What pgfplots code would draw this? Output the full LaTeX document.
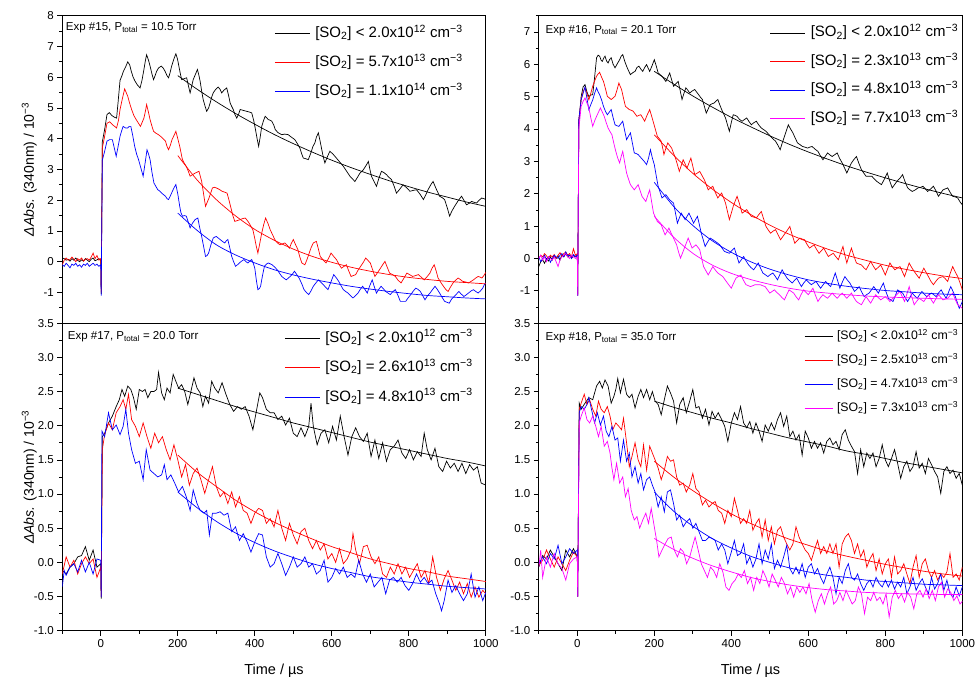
\documentclass[border=0pt]{standalone}
\usepackage{fontspec}
\setmainfont{Liberation Sans}
\usepackage{pgfplots}
\pgfplotsset{compat=1.18}
\usepgfplotslibrary{groupplots}

\definecolor{cblack}{RGB}{0,0,0}
\definecolor{cred}{RGB}{255,0,0}
\definecolor{cblue}{RGB}{0,0,255}
\definecolor{cmag}{RGB}{255,0,255}

\newcommand{\so}[3]{[SO\textsubscript{2}] #1 #2x10\textsuperscript{#3} cm\textsuperscript{−3}}

\pgfplotsset{
  panel/.style={
    scale only axis, width=423.5pt, height=307.5pt,
    xmin=-100, xmax=1000,
    tick align=outside, xtick pos=bottom, ytick pos=left,
    major tick length=5pt, minor tick length=3pt,
    every tick/.style={line width=0.7pt},
    axis line style={line width=1pt},
    /pgf/number format/assume math mode=true,
    /pgf/number format/1000 sep={},
    ticklabel style={font=\fontsize{11.5}{13}\selectfont},
    every axis plot/.append style={line width=0.7pt},
    legend cell align=left,
  },
  bigleg/.style={
    legend image code/.code={\draw[##1] (0pt,0pt) -- (35pt,0pt);},
    legend style={draw=none, fill=none, inner sep=0pt, column sep=5pt,
      font=\fontsize{15}{17}\selectfont, row sep=#1,
      nodes={inner sep=0pt, text height=12pt, text depth=4pt}},
  },
  smallleg/.style={
    legend image code/.code={\draw[##1] (0pt,0pt) -- (28pt,0pt);},
    legend style={draw=none, fill=none, inner sep=0pt, column sep=4pt,
      font=\fontsize{12.3}{14}\selectfont, row sep=10.5pt,
      nodes={inner sep=0pt, text height=10pt, text depth=3.5pt}},
  },
  toprow/.style={xtick=\empty, minor xtick={}},
  botrow/.style={
    xtick={0,200,...,1000}, minor xtick={-100,100,...,900},
    xlabel={Time / µs},
    xlabel style={font=\fontsize{14.5}{16}\selectfont, at={(axis description cs:0.5,-0.141)}, anchor=base},
    ymin=-1, ymax=3.5, ytick={-1,-0.5,...,3.5}, minor ytick={-0.75,-0.25,...,3.25},
    yticklabel style={/pgf/number format/.cd, fixed, fixed zerofill, precision=1},
  },
  ylab/.style={
    ylabel={{\itshape ΔAbs.} (340nm) / 10\textsuperscript{−3}},
    ylabel style={font=\fontsize{14}{16}\selectfont, at={(axis description cs:-0.078,0.5)}, anchor=center},
  },
  fit/.style={smooth, forget plot},
}

\begin{document}
\begin{tikzpicture}
\begin{groupplot}[group style={group size=2 by 2, horizontal sep=53pt, vertical sep=0pt, group name=G}, panel]

% ---------------- Exp 15 ----------------
\nextgroupplot[toprow, ylab, bigleg=13pt, ymin=-2, ymax=8, ytick={-1,0,...,8}, minor ytick={-1.5,-0.5,...,7.5},
  legend style={at={(1,1)}, anchor=north east, xshift=-23pt, yshift=-9.5pt}]
\addplot[cblack] coordinates {(-100,0.12)(-95,0.10)(-90,0.05)(-85,0.08)(-80,0.02)(-75,0.10)(-70,0.05)(-65,0.12)(-60,0.04)(-55,0.0)(-50,0.06)(-45,0.02)(-40,0.1)(-35,0.05)(-30,0.0)(-25,0.08)(-20,0.12)(-15,0.03)(-10,0.06)(-5,0.1)(0,0.05)(1,-1.05)(4,3.9)(10,4.3)(16,4.78)(22,4.85)(29,4.75)(35,4.7)(41,4.67)(45,5.2)(50,5.9)(55,6.05)(59,6.2)(65,6.35)(70,6.5)(75,6.4)(79,6.2)(84,6.0)(89,5.87)(95,5.75)(102,5.65)(107,5.9)(112,6.25)(116,6.55)(119,6.73)(124,6.55)(128,6.36)(133,6.1)(137,5.92)(141,6.05)(145,6.19)(150,6.3)(157,6.36)(162,6.3)(167,6.19)(172,6.05)(176,5.98)(180,6.15)(184,6.36)(190,6.6)(195,6.76)(199,6.6)(202,6.41)(206,6.15)(210,5.92)(216,5.95)(223,5.98)(228,5.7)(232,5.49)(236,5.7)(240,5.92)(246,6.1)(251,6.25)(255,6.05)(258,5.87)(262,5.55)(266,5.27)(271,5.05)(275,4.89)(280,5.0)(284,5.16)(288,5.35)(292,5.49)(298,5.6)(305,5.68)(310,5.6)(314,5.49)(320,5.58)(327,5.65)(332,5.4)(336,5.16)(340,5.05)(344,4.95)(348,4.8)(353,4.67)(358,4.8)(362,4.95)(370,4.92)(379,4.89)(385,4.87)(392,4.84)(397,4.6)(401,4.35)(406,4.0)(410,3.75)(414,4.05)(418,4.4)(423,4.6)(427,4.73)(431,4.68)(435,4.62)(440,4.6)(444,4.57)(449,4.45)(453,4.3)(460,4.2)(470,4.13)(478,4.15)(487,4.13)(495,4.05)(504,3.97)(510,3.85)(517,3.70)(522,3.5)(526,3.37)(532,3.35)(539,3.32)(546,3.55)(551,3.75)(556,3.86)(560,4.05)(565,4.19)(570,3.9)(574,3.64)(578,3.4)(582,3.21)(588,3.4)(595,3.59)(603,3.5)(612,3.37)(620,3.25)(630,3.10)(638,2.95)(647,2.78)(653,2.7)(660,2.61)(667,2.75)(673,2.88)(682,2.99)(690,3.15)(695,3.26)(699,3.0)(703,2.78)(710,2.6)(716,2.45)(722,2.7)(729,2.94)(735,2.9)(742,2.83)(748,2.75)(755,2.67)(762,2.45)(768,2.23)(776,2.35)(785,2.5)(795,2.4)(803,2.29)(812,2.32)(820,2.34)(829,2.2)(838,2.02)(845,2.2)(850,2.34)(857,2.5)(863,2.61)(870,2.4)(880,2.13)(887,2.08)(893,2.02)(900,1.75)(906,1.48)(912,1.65)(919,1.80)(928,1.98)(937,2.13)(943,2.0)(950,1.85)(957,1.9)(963,1.96)(970,1.93)(976,1.91)(983,2.0)(989,2.07)(995,2.05)(1000,2.02)};
\addlegendentry{\so{<}{2.0}{12}}
\addplot[cred] coordinates {(-100,-0.1)(-95,0.05)(-90,0.12)(-85,0.05)(-80,0.07)(-75,0.15)(-70,0.08)(-65,0.0)(-60,0.1)(-55,0.05)(-50,0.12)(-45,0.02)(-40,0.08)(-35,0.1)(-30,0.05)(-25,0.15)(-20,0.28)(-15,0.1)(-10,0.2)(-5,0.05)(0,0.1)(1,-1.0)(4,3.7)(10,4.08)(16,4.5)(23,4.55)(30,4.46)(36,4.4)(41,4.35)(46,4.6)(50,4.95)(56,5.3)(62,5.62)(66,5.5)(70,5.38)(75,5.15)(80,4.95)(86,4.75)(92,4.62)(98,4.5)(103,4.40)(108,4.55)(112,4.67)(116,4.9)(119,5.11)(124,4.85)(128,4.62)(133,4.4)(137,4.24)(143,4.18)(150,4.13)(155,4.08)(160,4.02)(168,3.92)(172,3.75)(176,3.64)(181,3.8)(185,3.97)(190,4.1)(195,4.24)(200,4.0)(205,3.75)(212,3.32)(217,3.2)(222,3.10)(227,2.95)(232,2.78)(238,2.83)(245,2.88)(250,2.91)(255,2.94)(258,2.8)(262,2.61)(267,2.2)(272,1.80)(277,1.95)(281,2.07)(286,2.25)(290,2.40)(295,2.42)(300,2.40)(308,2.35)(315,2.29)(322,2.26)(328,2.23)(333,2.0)(338,1.75)(343,1.5)(348,1.31)(355,1.34)(362,1.37)(368,1.40)(375,1.42)(380,1.35)(385,1.26)(390,1.15)(395,1.04)(400,0.75)(403,0.55)(408,0.28)(413,0.6)(418,0.93)(423,1.2)(428,1.42)(434,1.25)(440,1.04)(446,0.88)(452,0.72)(458,0.62)(465,0.55)(472,0.58)(478,0.61)(485,0.52)(490,0.44)(495,0.6)(500,0.72)(506,0.55)(512,0.39)(517,0.15)(522,-0.04)(530,-0.10)(535,0.05)(540,0.23)(546,0.45)(552,0.61)(560,0.66)(565,0.42)(570,0.17)(578,0.05)(585,-0.04)(592,0.12)(598,0.28)(605,0.17)(612,0.07)(618,-0.07)(625,-0.21)(632,-0.15)(638,-0.10)(644,-0.3)(650,-0.48)(656,-0.45)(662,-0.42)(668,-0.28)(675,-0.15)(682,-0.02)(688,0.12)(694,0.04)(700,-0.04)(706,-0.26)(712,-0.48)(718,-0.37)(724,-0.26)(731,-0.12)(738,0.01)(744,-0.18)(750,-0.37)(758,-0.42)(765,-0.48)(772,-0.6)(780,-0.69)(788,-0.52)(795,-0.37)(802,-0.42)(810,-0.48)(818,-0.45)(825,-0.42)(832,-0.5)(840,-0.59)(848,-0.48)(855,-0.37)(860,-0.22)(866,-0.10)(871,-0.3)(876,-0.53)(883,-0.67)(890,-0.80)(896,-0.9)(902,-0.97)(908,-0.83)(915,-0.69)(922,-0.6)(928,-0.53)(934,-0.58)(940,-0.64)(948,-0.66)(955,-0.69)(962,-0.64)(968,-0.59)(974,-0.53)(980,-0.48)(985,-0.5)(990,-0.53)(995,-0.45)(1000,-0.35)};
\addlegendentry{\so{=}{5.7}{13}}
\addplot[cblue] coordinates {(-100,-0.1)(-95,-0.15)(-90,-0.05)(-85,-0.12)(-80,-0.2)(-75,-0.08)(-70,-0.12)(-65,-0.05)(-60,-0.15)(-55,-0.1)(-50,-0.18)(-45,-0.08)(-40,-0.12)(-35,-0.05)(-30,-0.15)(-25,-0.1)(-20,-0.05)(-15,-0.12)(-10,-0.08)(-5,-0.15)(0,-0.1)(1,-1.1)(4,3.3)(10,3.59)(16,3.92)(23,3.97)(30,3.97)(35,3.7)(40,3.43)(45,3.75)(50,4.08)(54,4.25)(58,4.40)(64,4.35)(70,4.35)(74,4.4)(78,4.40)(83,4.1)(88,3.75)(93,3.5)(98,3.32)(104,3.05)(110,2.78)(115,3.2)(120,3.64)(124,3.5)(128,3.32)(133,2.9)(138,2.56)(143,2.45)(148,2.34)(153,2.3)(158,2.23)(163,2.18)(168,2.13)(172,2.05)(176,2.02)(181,2.15)(186,2.29)(190,2.4)(195,2.51)(200,2.2)(205,1.80)(208,1.6)(212,1.48)(217,1.5)(222,1.48)(227,1.3)(232,1.10)(238,1.25)(245,1.37)(252,1.42)(257,1.1)(262,0.82)(267,0.5)(272,0.17)(276,0.2)(280,0.28)(286,0.55)(292,0.77)(296,0.8)(300,0.82)(305,0.77)(310,0.72)(316,0.66)(322,0.61)(326,0.68)(330,0.72)(335,0.45)(340,0.17)(345,0.0)(350,-0.15)(355,-0.1)(360,-0.04)(366,0.02)(372,0.07)(377,0.0)(382,-0.04)(387,0.02)(392,0.07)(396,-0.05)(400,-0.21)(404,-0.6)(408,-0.91)(412,-0.87)(415,-0.80)(420,-0.45)(425,-0.15)(430,-0.08)(435,-0.04)(440,-0.07)(445,-0.10)(452,-0.18)(458,-0.26)(464,-0.37)(470,-0.48)(476,-0.54)(482,-0.59)(487,-0.53)(492,-0.48)(498,-0.4)(503,-0.31)(509,-0.42)(515,-0.53)(522,-0.72)(528,-0.91)(534,-1.0)(540,-1.07)(546,-0.95)(552,-0.80)(558,-0.7)(565,-0.59)(572,-0.67)(578,-0.75)(584,-0.83)(590,-0.91)(598,-0.65)(605,-0.42)(612,-0.53)(618,-0.64)(624,-0.78)(630,-0.91)(636,-0.97)(642,-1.02)(648,-1.1)(655,-1.18)(662,-1.1)(668,-1.02)(674,-0.9)(680,-0.80)(686,-0.9)(692,-1.02)(698,-0.8)(705,-0.59)(710,-0.8)(716,-1.02)(722,-0.9)(728,-0.80)(734,-0.88)(740,-0.97)(746,-1.02)(752,-1.07)(758,-0.98)(765,-0.91)(772,-1.1)(778,-1.29)(785,-1.29)(792,-1.29)(798,-1.18)(805,-1.07)(812,-0.95)(818,-0.86)(824,-0.9)(830,-0.97)(836,-1.1)(842,-1.24)(848,-1.12)(855,-1.02)(862,-0.9)(868,-0.80)(874,-0.9)(880,-1.02)(886,-1.15)(893,-1.29)(899,-1.32)(905,-1.35)(911,-1.22)(918,-1.13)(924,-1.05)(930,-0.97)(936,-1.05)(943,-1.13)(949,-1.08)(955,-1.02)(962,-0.95)(968,-0.91)(974,-0.97)(980,-1.02)(986,-0.95)(992,-0.86)(996,-0.75)(1000,-0.69)};
\addlegendentry{\so{=}{1.1}{14}}
% fitted decays
\addplot[cblack, fit] coordinates {(200,6.05)(250,5.61)(300,5.20)(350,4.82)(400,4.47)(450,4.14)(500,3.84)(550,3.56)(600,3.30)(650,3.06)(700,2.84)(750,2.63)(800,2.44)(850,2.26)(900,2.10)(950,1.94)(1000,1.80)};
\addplot[cred, fit] coordinates {(200,3.45)(250,2.66)(300,2.02)(350,1.49)(400,1.05)(450,0.70)(500,0.41)(550,0.17)(600,-0.02)(650,-0.18)(700,-0.31)(750,-0.42)(800,-0.51)(850,-0.58)(900,-0.64)(950,-0.68)(1000,-0.72)};
\addplot[cblue, fit] coordinates {(200,1.58)(250,1.02)(300,0.55)(350,0.22)(400,-0.04)(450,-0.26)(500,-0.43)(550,-0.57)(600,-0.69)(650,-0.80)(700,-0.89)(750,-0.97)(800,-1.04)(850,-1.10)(900,-1.14)(950,-1.18)(1000,-1.21)};
\node[anchor=base west, font=\fontsize{11.5}{13}\selectfont, inner sep=0pt] at ([xshift=3.5pt, yshift=-15pt]rel axis cs:0,1) {Exp \#15, P\textsubscript{total} = 10.5 Torr};

% ---------------- Exp 16 ----------------
\nextgroupplot[toprow, bigleg=12.5pt, ymin=-2, ymax=7.5, ytick={-1,0,...,7}, minor ytick={-1.5,-0.5,...,7.5},
  legend style={at={(1,1)}, anchor=north east, xshift=-4pt, yshift=-9pt}]
\addplot[cblack] coordinates {(-100,-0.25)(-95,-0.1)(-90,-0.04)(-85,-0.15)(-80,0.0)(-75,-0.08)(-70,0.05)(-65,-0.05)(-60,0.1)(-55,0.0)(-50,0.08)(-45,-0.05)(-40,0.12)(-35,0.05)(-30,0.15)(-25,0.05)(-20,0.1)(-15,0.0)(-10,0.1)(-5,0.05)(0,0.1)(1,-1.15)(4,4.2)(10,5.0)(15,5.3)(20,5.37)(25,5.15)(30,5.0)(35,5.05)(40,5.06)(45,5.6)(50,6.2)(54,6.28)(58,6.25)(62,6.12)(65,6.09)(69,6.2)(72,6.25)(76,6.1)(80,6.04)(84,6.15)(88,6.2)(93,6.0)(98,5.89)(104,6.02)(110,6.14)(114,6.25)(118,6.3)(123,6.1)(128,5.94)(133,5.8)(138,5.68)(144,5.74)(150,5.78)(155,5.9)(160,5.94)(165,5.85)(170,5.78)(175,5.9)(180,5.99)(184,5.88)(188,5.78)(194,5.95)(200,6.14)(205,5.95)(210,5.73)(215,5.68)(220,5.63)(225,5.55)(230,5.47)(235,5.6)(240,5.73)(245,5.52)(250,5.32)(256,5.4)(262,5.47)(267,5.2)(272,4.91)(277,5.1)(282,5.27)(287,5.2)(292,5.11)(298,5.17)(305,5.22)(310,5.14)(315,5.06)(320,4.98)(325,4.91)(330,4.7)(335,4.49)(340,4.62)(345,4.75)(350,4.78)(355,4.80)(360,4.86)(365,4.91)(370,4.75)(375,4.60)(380,4.47)(385,4.34)(390,4.13)(395,3.93)(400,4.2)(405,4.44)(410,4.42)(415,4.39)(421,4.3)(428,4.24)(434,4.29)(440,4.34)(446,4.23)(452,4.13)(458,4.19)(465,4.24)(471,4.13)(478,4.03)(484,3.98)(490,3.93)(496,3.85)(502,3.77)(508,3.7)(515,3.62)(521,3.5)(527,3.36)(532,3.56)(538,3.77)(543,3.95)(548,4.13)(554,4.0)(560,3.88)(566,3.72)(572,3.57)(578,3.52)(585,3.46)(591,3.44)(598,3.41)(604,3.44)(610,3.46)(617,3.38)(625,3.31)(631,3.18)(638,3.05)(644,3.15)(650,3.26)(656,3.2)(662,3.15)(668,3.2)(675,3.26)(681,3.1)(688,2.95)(694,2.8)(700,2.64)(706,2.8)(712,2.95)(718,3.05)(725,3.15)(731,2.95)(738,2.74)(744,2.64)(750,2.54)(758,2.54)(765,2.54)(771,2.46)(778,2.38)(784,2.33)(790,2.28)(798,2.46)(805,2.64)(811,2.41)(818,2.18)(824,2.28)(830,2.38)(838,2.48)(845,2.59)(851,2.38)(858,2.18)(864,2.12)(870,2.07)(878,2.12)(885,2.18)(892,2.2)(898,2.23)(904,2.15)(910,2.07)(918,2.15)(925,2.23)(932,2.08)(938,1.92)(944,2.02)(950,2.12)(956,2.15)(962,2.18)(968,2.05)(975,1.92)(982,1.9)(988,1.87)(994,1.75)(1000,1.66)};
\addlegendentry{\so{<}{2.0}{12}}
\addplot[cred] coordinates {(-100,0.0)(-95,0.1)(-90,0.05)(-85,0.15)(-80,0.08)(-75,0.0)(-70,0.1)(-65,0.05)(-60,0.12)(-55,0.0)(-50,0.1)(-45,0.18)(-40,0.08)(-35,0.15)(-30,0.2)(-25,0.1)(-20,0.15)(-15,0.05)(-10,0.3)(-5,0.1)(0,0.15)(1,-1.1)(4,4.3)(10,4.9)(15,5.15)(20,5.27)(25,5.1)(30,4.9)(35,5.1)(40,5.32)(45,5.48)(50,5.63)(54,5.7)(58,5.75)(63,5.6)(68,5.47)(73,5.25)(78,5.01)(83,4.96)(88,4.91)(93,4.96)(98,5.01)(103,5.2)(108,5.42)(112,5.3)(115,5.22)(120,4.95)(125,4.70)(130,4.65)(135,4.60)(140,4.58)(145,4.55)(150,4.47)(155,4.39)(160,4.42)(165,4.44)(170,4.34)(175,4.24)(181,4.42)(188,4.60)(193,4.4)(198,4.19)(203,3.98)(208,3.77)(213,3.7)(218,3.62)(222,3.4)(225,3.21)(230,3.4)(235,3.57)(240,3.49)(245,3.41)(250,3.25)(255,3.10)(260,2.9)(265,2.69)(270,2.87)(275,3.05)(280,2.92)(285,2.79)(290,2.95)(295,3.10)(300,2.85)(305,2.59)(312,2.64)(318,2.69)(324,2.56)(330,2.43)(335,2.28)(340,2.12)(346,2.18)(352,2.23)(358,2.05)(365,1.87)(370,1.95)(375,2.02)(380,1.87)(385,1.71)(390,1.45)(395,1.20)(400,1.4)(405,1.61)(410,1.77)(415,1.92)(422,1.66)(428,1.40)(434,1.45)(440,1.51)(446,1.4)(452,1.30)(458,1.28)(465,1.25)(471,1.35)(478,1.45)(484,1.22)(490,0.99)(496,0.88)(502,0.78)(508,0.84)(515,0.89)(521,0.74)(528,0.58)(534,0.68)(540,0.78)(546,0.88)(552,0.99)(558,0.73)(565,0.47)(571,0.55)(578,0.63)(584,0.6)(590,0.58)(596,0.45)(603,0.32)(609,0.37)(615,0.42)(621,0.29)(628,0.16)(634,0.24)(640,0.32)(646,0.19)(652,0.06)(658,0.11)(665,0.16)(671,0.06)(678,-0.04)(684,0.17)(690,0.37)(695,0.1)(700,-0.14)(706,0.1)(712,0.32)(718,0.09)(725,-0.14)(731,-0.17)(738,-0.20)(744,-0.28)(750,-0.35)(756,-0.22)(762,-0.09)(768,-0.22)(775,-0.35)(781,-0.28)(788,-0.20)(794,-0.35)(800,-0.51)(806,-0.32)(812,-0.14)(818,-0.25)(825,-0.35)(831,-0.3)(838,-0.25)(844,-0.4)(850,-0.56)(856,-0.35)(862,-0.14)(868,-0.27)(875,-0.40)(881,-0.5)(888,-0.61)(894,-0.45)(900,-0.30)(906,-0.43)(912,-0.56)(918,-0.7)(925,-0.81)(931,-0.71)(938,-0.61)(944,-0.58)(950,-0.56)(956,-0.63)(962,-0.71)(968,-0.48)(975,-0.25)(981,-0.4)(988,-0.56)(994,-0.75)(1000,-0.97)};
\addlegendentry{\so{=}{2.3}{13}}
\addplot[cblue] coordinates {(-100,0.05)(-95,-0.1)(-90,0.0)(-85,0.1)(-80,-0.05)(-75,0.05)(-70,-0.12)(-65,0.0)(-60,0.1)(-55,0.05)(-50,0.0)(-45,0.1)(-40,0.15)(-35,0.05)(-30,0.2)(-25,0.08)(-20,0.1)(-15,0.0)(-10,0.12)(-5,0.05)(0,0.1)(1,-1.15)(4,4.3)(10,4.9)(15,5.1)(20,5.3)(25,4.95)(30,4.6)(35,4.75)(40,4.9)(45,5.1)(50,5.27)(54,5.15)(58,5.06)(63,4.9)(68,4.70)(73,4.55)(78,4.44)(83,4.52)(88,4.60)(93,4.35)(98,4.13)(103,4.1)(108,4.08)(113,4.16)(118,4.24)(123,3.95)(128,3.67)(133,3.78)(138,3.88)(143,3.57)(148,3.26)(153,3.24)(158,3.21)(164,3.13)(170,3.05)(175,2.98)(180,2.90)(185,3.1)(190,3.36)(195,3.1)(200,2.90)(205,2.55)(210,2.23)(215,2.05)(220,1.87)(225,1.92)(230,1.97)(235,1.89)(240,1.81)(245,1.76)(250,1.71)(255,1.4)(260,1.09)(265,1.25)(270,1.40)(275,1.3)(280,1.20)(285,1.3)(290,1.40)(296,1.25)(302,1.09)(307,1.2)(312,1.30)(317,1.05)(322,0.78)(327,0.58)(332,0.37)(338,0.5)(345,0.63)(352,0.58)(358,0.53)(364,0.48)(370,0.42)(376,0.32)(382,0.22)(388,0.19)(395,0.16)(401,0.24)(408,0.32)(414,0.09)(420,-0.14)(426,-0.04)(432,0.06)(438,-0.07)(445,-0.20)(451,-0.28)(458,-0.35)(464,-0.25)(470,-0.14)(476,-0.3)(482,-0.45)(488,-0.5)(495,-0.56)(501,-0.5)(508,-0.45)(514,-0.55)(520,-0.66)(526,-0.5)(532,-0.35)(538,-0.48)(545,-0.61)(551,-0.68)(558,-0.76)(564,-0.68)(570,-0.61)(576,-0.74)(582,-0.87)(588,-0.76)(595,-0.66)(601,-0.74)(608,-0.81)(614,-0.76)(620,-0.71)(626,-0.82)(632,-0.92)(638,-0.82)(645,-0.71)(651,-0.79)(658,-0.87)(664,-0.66)(670,-0.45)(676,-0.68)(682,-0.92)(688,-0.74)(695,-0.56)(701,-0.66)(708,-0.76)(714,-0.89)(720,-1.02)(726,-0.95)(732,-0.87)(738,-1.02)(745,-1.18)(751,-1.12)(758,-1.07)(764,-0.97)(770,-0.87)(776,-0.97)(782,-1.07)(788,-0.92)(795,-0.76)(801,-1.0)(808,-1.23)(814,-1.28)(820,-1.33)(826,-1.15)(832,-0.97)(838,-1.02)(845,-1.07)(851,-1.2)(858,-1.33)(864,-1.2)(870,-1.07)(876,-1.15)(883,-1.23)(889,-1.12)(895,-1.02)(901,-1.1)(908,-1.18)(914,-1.12)(920,-1.07)(926,-1.12)(932,-1.18)(938,-1.07)(945,-0.97)(951,-1.1)(958,-1.23)(964,-1.05)(970,-0.87)(976,-1.02)(982,-1.18)(987,-1.36)(992,-1.54)(996,-1.45)(1000,-1.33)};
\addlegendentry{\so{=}{4.8}{13}}
\addplot[cmag] coordinates {(-100,0.0)(-95,0.1)(-90,-0.05)(-85,0.05)(-80,-0.1)(-75,0.05)(-70,0.0)(-65,-0.05)(-60,0.05)(-55,-0.1)(-50,-0.25)(-45,-0.05)(-40,0.05)(-35,0.1)(-30,0.15)(-25,0.05)(-20,0.0)(-15,0.1)(-10,0.05)(-5,0.0)(0,0.05)(1,-1.15)(4,4.0)(10,4.70)(15,4.85)(20,4.96)(25,4.8)(30,4.65)(35,4.35)(40,4.08)(45,4.25)(50,4.39)(55,4.52)(60,4.65)(65,4.52)(70,4.39)(75,4.2)(80,4.03)(85,3.92)(90,3.82)(95,3.55)(100,3.31)(105,3.1)(110,2.95)(114,3.15)(118,3.31)(123,2.97)(128,2.64)(133,2.45)(138,2.28)(143,2.2)(148,2.12)(153,2.2)(158,2.28)(163,2.1)(168,1.92)(173,1.84)(178,1.76)(183,1.95)(188,2.12)(193,1.75)(198,1.40)(203,1.27)(208,1.14)(213,1.09)(218,1.04)(223,0.88)(228,0.73)(233,0.83)(238,0.94)(243,0.8)(248,0.68)(253,0.55)(258,0.42)(263,0.2)(268,0.01)(273,0.16)(278,0.32)(283,0.47)(288,0.63)(293,0.48)(298,0.32)(303,0.37)(308,0.42)(313,0.35)(318,0.27)(323,0.0)(328,-0.25)(334,-0.38)(340,-0.51)(346,-0.38)(352,-0.25)(358,-0.35)(365,-0.45)(371,-0.5)(378,-0.56)(384,-0.66)(390,-0.76)(395,-0.84)(400,-0.92)(406,-0.76)(412,-0.61)(418,-0.56)(425,-0.51)(431,-0.66)(438,-0.81)(444,-0.84)(450,-0.87)(456,-0.84)(462,-0.81)(468,-0.81)(475,-0.81)(481,-0.84)(488,-0.87)(494,-0.97)(500,-1.07)(506,-1.02)(512,-0.97)(518,-1.05)(525,-1.12)(531,-1.2)(538,-1.28)(544,-1.12)(550,-0.97)(556,-1.02)(562,-1.07)(568,-1.18)(575,-1.28)(581,-1.12)(588,-0.97)(594,-1.05)(600,-1.12)(606,-1.02)(612,-0.92)(618,-1.12)(625,-1.33)(631,-1.22)(638,-1.12)(644,-1.18)(650,-1.23)(656,-1.15)(662,-1.07)(668,-1.15)(675,-1.23)(681,-1.15)(688,-1.07)(694,-1.15)(700,-1.23)(706,-1.15)(712,-1.07)(718,-1.2)(725,-1.33)(731,-1.38)(738,-1.43)(744,-1.3)(750,-1.18)(756,-1.28)(762,-1.38)(768,-1.25)(775,-1.12)(781,-1.2)(788,-1.28)(794,-1.23)(800,-1.18)(806,-1.25)(812,-1.33)(818,-1.25)(825,-1.18)(831,-1.1)(838,-1.02)(844,-1.18)(850,-1.33)(856,-1.1)(862,-0.87)(868,-1.15)(875,-1.43)(881,-1.33)(888,-1.23)(894,-1.28)(900,-1.33)(906,-1.22)(912,-1.12)(918,-1.25)(925,-1.38)(931,-1.25)(938,-1.12)(944,-1.2)(950,-1.28)(956,-1.25)(962,-1.23)(968,-1.15)(975,-1.07)(981,-1.25)(988,-1.43)(994,-1.48)(1000,-1.54)};
\addlegendentry{\so{=}{7.7}{13}}
\addplot[cblack, fit] coordinates {(200,5.78)(250,5.39)(300,5.02)(350,4.68)(400,4.36)(450,4.07)(500,3.79)(550,3.53)(600,3.29)(650,3.07)(700,2.86)(750,2.67)(800,2.49)(850,2.32)(900,2.16)(950,2.01)(1000,1.87)};
\addplot[cred, fit] coordinates {(200,3.82)(250,3.19)(300,2.63)(350,2.15)(400,1.73)(450,1.36)(500,1.03)(550,0.75)(600,0.51)(650,0.29)(700,0.10)(750,-0.06)(800,-0.21)(850,-0.33)(900,-0.44)(950,-0.54)(1000,-0.62)};
\addplot[cblue, fit] coordinates {(200,2.35)(250,1.61)(300,1.02)(350,0.55)(400,0.19)(450,-0.10)(500,-0.33)(550,-0.51)(600,-0.66)(650,-0.77)(700,-0.86)(750,-0.93)(800,-0.99)(850,-1.03)(900,-1.07)(950,-1.10)(1000,-1.12)};
\addplot[cmag, fit] coordinates {(200,1.30)(250,0.66)(300,0.16)(350,-0.20)(400,-0.46)(450,-0.65)(500,-0.80)(550,-0.92)(600,-1.01)(650,-1.07)(700,-1.12)(750,-1.16)(800,-1.19)(850,-1.21)(900,-1.23)(950,-1.25)(1000,-1.26)};
\node[anchor=base west, font=\fontsize{11.5}{13}\selectfont, inner sep=0pt] at ([xshift=6.7pt, yshift=-17.3pt]rel axis cs:0,1) {Exp \#16, P\textsubscript{total} = 20.1 Torr};

% ---------------- Exp 17 ----------------
\nextgroupplot[botrow, ylab, bigleg=13.5pt,
  legend style={at={(1,1)}, anchor=north east, xshift=-13pt, yshift=-6.7pt}]
\addplot[cblack] coordinates {(-100,-0.12)(-90,-0.17)(-80,-0.07)(-70,-0.02)(-60,0.08)(-50,0.10)(-40,0.23)(-30,0.03)(-20,0.18)(-10,-0.07)(0,-0.02)(1,-0.53)(4,1.84)(10,1.89)(20,2.04)(30,2.14)(40,2.28)(48,2.38)(55,2.53)(62,2.43)(70,2.58)(78,2.53)(85,2.41)(92,2.24)(100,2.53)(108,2.50)(115,2.53)(122,2.41)(130,2.50)(138,2.50)(145,2.53)(150,2.78)(158,2.48)(165,2.38)(172,2.55)(180,2.48)(188,2.75)(195,2.65)(202,2.55)(210,2.60)(218,2.50)(226,2.31)(234,2.50)(242,2.70)(250,2.55)(258,2.48)(265,2.28)(272,2.43)(280,2.33)(288,2.65)(296,2.55)(305,2.48)(315,2.63)(325,2.46)(335,2.31)(345,2.21)(355,2.28)(365,2.24)(375,2.28)(385,2.14)(395,1.94)(405,2.24)(413,2.48)(420,2.41)(430,2.24)(440,2.19)(450,2.19)(460,2.09)(470,2.14)(480,2.01)(490,2.11)(500,1.89)(510,1.84)(520,1.97)(530,1.84)(540,1.99)(546,2.33)(552,1.99)(562,1.72)(572,1.89)(582,1.94)(592,1.75)(602,1.99)(612,1.79)(622,2.14)(632,1.84)(642,1.57)(652,1.84)(662,1.97)(672,1.84)(682,1.77)(692,1.89)(702,1.55)(712,1.79)(722,1.52)(732,1.75)(742,1.48)(752,1.65)(762,1.70)(772,1.79)(782,1.60)(792,1.52)(802,1.65)(812,1.50)(822,1.62)(832,1.55)(840,1.89)(848,1.65)(858,1.50)(868,1.67)(878,1.40)(888,1.33)(898,1.48)(908,1.38)(918,1.45)(928,1.33)(938,1.45)(948,1.30)(958,1.43)(968,1.35)(978,1.40)(988,1.16)(1000,1.13)};
\addlegendentry{\so{<}{2.0}{12}}
\addplot[cred] coordinates {(-100,-0.17)(-90,0.08)(-80,-0.07)(-70,0.03)(-60,-0.17)(-50,-0.02)(-40,0.08)(-30,-0.02)(-20,0.05)(-10,-0.22)(0,-0.07)(1,-0.5)(4,1.65)(10,1.87)(20,2.04)(30,1.94)(40,2.19)(50,2.28)(58,2.38)(65,2.24)(72,2.46)(80,2.09)(90,1.99)(100,1.84)(110,2.04)(120,1.84)(130,1.67)(140,1.89)(150,1.75)(160,1.84)(170,1.65)(180,1.50)(190,1.72)(200,1.50)(210,1.25)(220,1.43)(230,1.13)(240,1.30)(250,1.38)(260,1.21)(270,1.01)(280,1.21)(290,1.40)(300,1.11)(310,0.96)(320,1.03)(330,0.86)(340,1.03)(350,0.81)(360,0.96)(370,0.76)(380,0.72)(390,0.57)(400,0.72)(410,0.79)(420,0.76)(430,0.57)(440,0.64)(450,0.52)(460,0.76)(470,0.50)(480,0.32)(490,0.57)(500,0.40)(510,0.27)(520,0.45)(530,0.50)(540,0.32)(550,0.20)(560,0.32)(570,0.18)(580,0.27)(590,0.05)(600,0.13)(610,0.00)(620,0.20)(630,-0.02)(640,0.05)(650,0.18)(655,0.42)(662,0.18)(672,-0.02)(682,0.23)(692,0.25)(702,0.08)(712,-0.02)(722,0.08)(732,-0.17)(742,-0.22)(752,-0.07)(762,-0.17)(772,-0.02)(782,-0.17)(792,-0.07)(802,-0.22)(812,-0.12)(822,-0.02)(832,-0.22)(842,-0.12)(852,-0.31)(862,0.08)(872,-0.22)(882,-0.41)(892,-0.24)(902,-0.12)(912,-0.26)(922,-0.41)(932,-0.29)(942,-0.46)(952,-0.31)(962,-0.51)(972,-0.36)(982,-0.51)(992,-0.41)(1000,-0.46)};
\addlegendentry{\so{=}{2.6}{13}}
\addplot[cblue] coordinates {(-100,-0.36)(-95,-0.12)(-90,-0.19)(-80,-0.07)(-70,-0.02)(-60,-0.14)(-50,0.03)(-40,-0.14)(-30,0.00)(-20,-0.17)(-10,0.05)(0,0.03)(1,-0.51)(3,1.92)(10,1.84)(20,2.19)(30,1.94)(40,2.01)(50,1.87)(58,1.99)(65,2.24)(72,1.89)(80,1.65)(90,1.45)(100,1.48)(110,1.21)(118,1.65)(128,1.35)(138,1.30)(148,1.25)(158,1.28)(165,1.43)(172,1.21)(182,1.28)(192,1.16)(202,1.03)(212,1.11)(222,0.96)(232,0.76)(240,1.06)(250,0.86)(258,0.76)(268,0.72)(275,0.76)(282,0.40)(290,0.72)(300,0.72)(310,0.74)(320,0.69)(330,0.72)(340,0.45)(350,0.52)(360,0.32)(370,0.42)(380,0.30)(390,0.15)(400,0.30)(410,0.42)(420,0.40)(430,0.08)(440,-0.07)(450,-0.02)(460,0.13)(470,-0.02)(480,-0.19)(490,-0.07)(500,0.08)(510,-0.07)(520,-0.02)(530,0.08)(540,-0.07)(550,-0.02)(560,-0.17)(570,-0.12)(580,0.03)(590,-0.29)(600,-0.22)(610,-0.09)(620,-0.17)(630,-0.07)(640,-0.22)(650,-0.17)(660,-0.22)(670,0.03)(680,-0.17)(690,-0.29)(700,-0.17)(710,-0.36)(720,-0.29)(730,-0.22)(740,-0.46)(750,-0.26)(760,-0.22)(770,-0.29)(780,-0.22)(790,-0.34)(800,-0.41)(810,-0.31)(820,-0.17)(830,-0.29)(840,-0.22)(850,-0.31)(860,-0.26)(870,-0.46)(880,-0.61)(885,-0.71)(892,-0.56)(902,-0.26)(912,-0.44)(922,-0.34)(932,-0.46)(942,-0.56)(952,-0.46)(962,-0.17)(972,-0.51)(982,-0.36)(992,-0.56)(1000,-0.44)};
\addlegendentry{\so{=}{4.8}{13}}
\addplot[cblack, fit] coordinates {(200,2.55)(250,2.46)(300,2.37)(350,2.28)(400,2.20)(450,2.12)(500,2.04)(550,1.97)(600,1.90)(650,1.83)(700,1.76)(750,1.70)(800,1.64)(850,1.58)(900,1.52)(950,1.47)(1000,1.41)};
\addplot[cred, fit] coordinates {(200,1.57)(250,1.32)(300,1.11)(350,0.91)(400,0.74)(450,0.59)(500,0.46)(550,0.34)(600,0.23)(650,0.14)(700,0.05)(750,-0.02)(800,-0.09)(850,-0.14)(900,-0.20)(950,-0.24)(1000,-0.28)};
\addplot[cblue, fit] coordinates {(200,1.03)(250,0.80)(300,0.60)(350,0.43)(400,0.29)(450,0.17)(500,0.07)(550,-0.02)(600,-0.09)(650,-0.15)(700,-0.21)(750,-0.25)(800,-0.29)(850,-0.32)(900,-0.35)(950,-0.37)(1000,-0.39)};
\node[anchor=base west, font=\fontsize{11.5}{13}\selectfont, inner sep=0pt] at ([xshift=5.4pt, yshift=-16.7pt]rel axis cs:0,1) {Exp \#17, P\textsubscript{total} = 20.0 Torr};

% ---------------- Exp 18 ----------------
\nextgroupplot[botrow, smallleg,
  legend style={at={(1,1)}, anchor=north east, xshift=-4pt, yshift=-6pt}]
\addplot[cblack] coordinates {(-100,-0.07)(-90,0.10)(-80,0.05)(-70,0.18)(-60,0.08)(-50,-0.02)(-40,-0.12)(-30,0.18)(-20,0.08)(-10,0.20)(0,0.08)(1,-0.5)(5,2.33)(10,2.24)(20,2.33)(30,2.41)(40,2.38)(50,2.58)(58,2.65)(65,2.55)(72,2.67)(80,2.58)(88,2.33)(95,2.43)(100,2.53)(105,2.69)(112,2.48)(120,2.68)(128,2.46)(135,2.41)(142,2.46)(150,2.26)(158,2.43)(165,2.53)(172,2.41)(180,2.53)(188,2.38)(195,2.50)(202,2.36)(210,2.31)(218,2.16)(226,2.38)(234,2.58)(242,2.48)(250,2.36)(258,2.04)(266,2.31)(275,2.41)(283,2.19)(292,2.36)(300,2.53)(308,2.26)(316,2.28)(325,2.11)(333,2.24)(342,2.01)(350,2.21)(358,2.11)(366,2.19)(375,2.09)(383,1.99)(391,1.77)(400,2.04)(408,2.19)(416,2.09)(424,2.28)(432,2.04)(440,1.97)(448,2.06)(456,1.89)(464,2.04)(472,1.92)(480,1.77)(488,2.01)(496,1.92)(504,2.04)(512,1.94)(520,2.09)(528,2.19)(536,1.99)(544,2.14)(552,1.84)(560,1.92)(568,1.79)(576,1.87)(584,1.57)(592,1.92)(600,1.82)(608,1.67)(616,1.77)(624,1.67)(632,1.75)(640,1.60)(648,1.77)(656,1.82)(664,1.72)(672,1.77)(680,1.65)(688,1.87)(696,1.94)(704,1.79)(712,1.70)(720,1.62)(728,1.30)(736,1.65)(744,1.40)(752,1.60)(760,1.52)(768,1.60)(776,1.40)(784,1.52)(792,1.72)(800,1.50)(808,1.40)(816,1.52)(824,1.65)(832,1.45)(840,1.23)(848,1.40)(856,1.48)(864,1.33)(872,1.40)(880,1.62)(888,1.38)(896,1.45)(904,1.30)(912,1.52)(920,1.43)(928,1.33)(936,1.25)(944,1.01)(952,1.33)(960,1.40)(968,1.30)(976,1.35)(984,1.23)(992,1.30)(1000,1.13)};
\addlegendentry{\so{<}{2.0}{12}}
\addplot[cred] coordinates {(-100,-0.04)(-90,0.03)(-80,0.18)(-70,0.05)(-60,-0.07)(-50,0.08)(-40,-0.02)(-30,-0.12)(-20,0.03)(-10,0.15)(0,0.08)(1,-0.5)(5,2.24)(10,2.33)(18,2.46)(25,2.31)(32,2.38)(40,2.24)(48,2.14)(55,2.36)(62,2.24)(70,2.19)(78,2.28)(85,2.14)(92,1.94)(100,2.04)(108,1.99)(115,1.94)(120,2.11)(128,1.75)(135,1.40)(142,1.55)(150,1.75)(158,1.50)(165,1.40)(172,1.72)(180,1.35)(188,1.70)(195,1.60)(202,1.50)(210,1.38)(218,1.21)(226,1.35)(234,1.55)(242,1.48)(250,1.50)(258,1.25)(266,1.13)(275,1.16)(283,1.03)(292,1.13)(300,1.30)(308,1.08)(316,1.03)(325,0.84)(333,0.91)(342,0.81)(350,0.86)(358,0.89)(366,0.76)(375,0.72)(383,0.57)(391,0.76)(400,0.67)(408,0.94)(416,0.76)(424,0.57)(432,0.64)(440,0.57)(448,0.76)(456,0.47)(464,0.57)(472,0.64)(480,0.37)(488,0.62)(496,0.32)(504,0.52)(512,0.27)(520,0.47)(528,0.52)(536,0.37)(544,0.27)(552,0.18)(560,0.27)(568,0.52)(576,0.37)(584,0.27)(592,0.18)(600,0.13)(608,0.03)(616,0.18)(624,0.32)(632,0.13)(640,0.23)(648,0.13)(656,0.27)(664,0.13)(672,0.27)(680,-0.07)(688,0.27)(696,0.37)(704,0.42)(712,0.32)(720,0.13)(728,0.27)(736,0.08)(744,0.18)(752,-0.07)(760,0.05)(768,0.13)(776,-0.12)(784,0.05)(792,-0.17)(800,-0.02)(808,0.05)(816,-0.22)(824,0.08)(832,-0.17)(840,-0.12)(848,-0.02)(856,-0.17)(864,-0.31)(872,-0.07)(880,0.10)(888,-0.22)(896,-0.02)(904,0.05)(912,-0.12)(920,-0.22)(928,-0.12)(936,-0.26)(944,-0.17)(952,-0.22)(960,-0.14)(968,0.13)(976,-0.22)(984,-0.17)(992,-0.26)(1000,-0.07)};
\addlegendentry{\so{=}{2.5}{13}}
\addplot[cblue] coordinates {(-100,-0.02)(-90,0.08)(-80,-0.02)(-70,0.13)(-60,0.05)(-50,0.25)(-40,-0.02)(-30,0.08)(-20,0.20)(-10,0.13)(0,0.18)(1,-0.5)(5,2.19)(10,2.28)(18,2.24)(25,2.31)(30,2.41)(38,2.21)(45,2.04)(52,2.19)(60,2.01)(68,2.14)(75,1.92)(82,1.84)(90,1.99)(98,1.79)(105,1.82)(112,1.48)(120,1.79)(128,1.48)(135,1.60)(142,1.25)(150,1.40)(158,1.16)(165,1.30)(172,1.06)(180,1.21)(188,1.25)(195,1.13)(202,1.03)(210,0.81)(218,0.96)(226,0.74)(234,1.03)(242,1.06)(250,0.86)(258,0.62)(266,0.69)(275,0.52)(283,0.59)(292,0.64)(300,0.50)(308,0.57)(316,0.45)(325,0.32)(333,0.32)(342,0.37)(350,0.35)(358,0.32)(366,0.18)(375,0.27)(383,0.18)(391,-0.02)(400,0.15)(408,0.32)(416,0.10)(424,0.13)(432,0.27)(440,-0.02)(448,0.08)(456,-0.07)(464,0.05)(472,0.27)(480,-0.02)(488,0.18)(496,0.05)(504,0.27)(512,-0.09)(520,0.03)(528,-0.07)(536,0.08)(544,0.25)(552,-0.09)(560,-0.17)(568,-0.07)(576,-0.17)(584,-0.02)(592,-0.22)(600,-0.07)(608,-0.02)(616,-0.17)(624,-0.09)(632,-0.22)(640,-0.31)(648,-0.17)(656,-0.07)(664,-0.22)(672,-0.46)(680,-0.22)(688,-0.31)(696,-0.12)(704,-0.02)(712,-0.22)(720,-0.26)(728,-0.17)(736,-0.31)(744,-0.41)(752,-0.31)(760,-0.26)(768,-0.36)(776,-0.22)(784,-0.31)(792,-0.36)(800,-0.26)(808,-0.36)(816,-0.26)(824,-0.39)(832,-0.29)(840,-0.36)(848,-0.22)(856,-0.46)(864,-0.36)(872,-0.22)(880,-0.41)(888,-0.31)(896,-0.24)(904,-0.36)(912,-0.46)(920,-0.22)(928,-0.39)(936,-0.31)(944,-0.17)(952,-0.41)(960,-0.26)(968,-0.46)(976,-0.51)(984,-0.36)(992,-0.49)(1000,-0.36)};
\addlegendentry{\so{=}{4.7}{13}}
\addplot[cmag] coordinates {(-100,-0.07)(-95,0.18)(-90,-0.22)(-80,0.08)(-70,-0.07)(-60,0.13)(-50,-0.02)(-40,-0.09)(-30,-0.26)(-20,-0.02)(-10,0.05)(0,0.08)(1,-0.5)(5,2.04)(10,2.14)(18,2.26)(25,2.09)(32,2.04)(40,2.14)(48,1.99)(55,1.84)(62,1.99)(70,1.70)(78,1.77)(85,1.60)(90,1.38)(95,1.21)(102,1.45)(110,1.16)(118,1.25)(125,0.96)(132,1.08)(140,0.76)(148,0.62)(155,0.67)(162,0.50)(170,0.62)(178,0.72)(185,0.57)(192,0.79)(200,0.52)(206,0.32)(212,0.08)(220,0.18)(228,0.27)(236,0.35)(244,0.37)(252,0.18)(260,0.08)(268,0.20)(276,0.15)(284,-0.02)(292,0.08)(300,0.25)(306,0.37)(314,0.18)(322,-0.02)(330,-0.12)(338,-0.22)(346,-0.07)(354,-0.12)(362,-0.22)(370,-0.02)(378,-0.14)(386,-0.36)(394,-0.41)(402,-0.31)(410,-0.26)(418,-0.17)(426,-0.22)(434,-0.12)(442,-0.31)(450,-0.22)(458,-0.41)(466,-0.22)(474,-0.31)(482,-0.12)(490,-0.22)(498,-0.36)(506,-0.17)(514,-0.26)(522,-0.36)(530,-0.22)(538,-0.31)(546,-0.46)(554,-0.36)(562,-0.51)(570,-0.36)(578,-0.44)(586,-0.36)(594,-0.46)(602,-0.31)(610,-0.56)(618,-0.73)(626,-0.56)(634,-0.46)(642,-0.61)(650,-0.46)(658,-0.36)(666,-0.61)(674,-0.56)(682,-0.44)(690,-0.56)(698,-0.41)(706,-0.51)(714,-0.61)(722,-0.56)(730,-0.36)(738,-0.46)(746,-0.75)(754,-0.51)(762,-0.56)(770,-0.44)(778,-0.56)(786,-0.51)(794,-0.61)(802,-0.46)(810,-0.80)(818,-0.51)(826,-0.41)(834,-0.53)(842,-0.46)(850,-0.58)(858,-0.44)(866,-0.51)(874,-0.68)(882,-0.46)(890,-0.41)(898,-0.51)(906,-0.39)(914,-0.53)(922,-0.41)(930,-0.56)(938,-0.36)(946,-0.29)(954,-0.51)(962,-0.39)(970,-0.44)(978,-0.56)(986,-0.49)(994,-0.61)(1000,-0.57)};
\addlegendentry{\so{=}{7.3}{13}}
\addplot[cblack, fit] coordinates {(200,2.36)(250,2.27)(300,2.19)(350,2.11)(400,2.04)(450,1.96)(500,1.89)(550,1.82)(600,1.76)(650,1.70)(700,1.63)(750,1.58)(800,1.52)(850,1.46)(900,1.41)(950,1.36)(1000,1.31)};
\addplot[cred, fit] coordinates {(200,1.48)(250,1.25)(300,1.05)(350,0.87)(400,0.71)(450,0.57)(500,0.45)(550,0.34)(600,0.25)(650,0.16)(700,0.09)(750,0.03)(800,-0.03)(850,-0.08)(900,-0.13)(950,-0.17)(1000,-0.20)};
\addplot[cblue, fit] coordinates {(200,1.03)(250,0.75)(300,0.53)(350,0.35)(400,0.21)(450,0.09)(500,0.00)(550,-0.08)(600,-0.14)(650,-0.19)(700,-0.22)(750,-0.26)(800,-0.28)(850,-0.30)(900,-0.32)(950,-0.33)(1000,-0.34)};
\addplot[cmag, fit] coordinates {(200,0.35)(250,0.19)(300,0.06)(350,-0.05)(400,-0.14)(450,-0.22)(500,-0.28)(550,-0.33)(600,-0.37)(650,-0.40)(700,-0.42)(750,-0.44)(800,-0.45)(850,-0.46)(900,-0.465)(950,-0.47)(1000,-0.47)};
\node[anchor=base west, font=\fontsize{11.5}{13}\selectfont, inner sep=0pt] at ([xshift=6.7pt, yshift=-17.7pt]rel axis cs:0,1) {Exp \#18, P\textsubscript{total} = 35.0 Torr};
\end{groupplot}
\pgfresetboundingbox
\path ([shift={(-62.3pt,15.7pt)}]G c1r1.north west) rectangle ([shift={(914.7pt,-661.3pt)}]G c1r1.north west);
\end{tikzpicture}
\end{document}
